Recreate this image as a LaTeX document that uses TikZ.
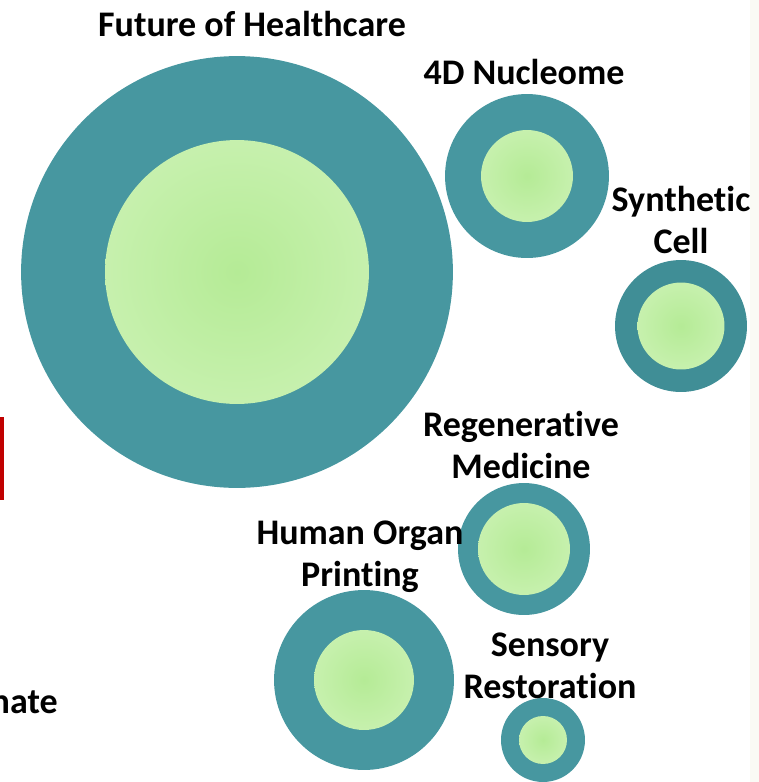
\documentclass[tikz,border=0pt]{standalone}
\usepackage{fontspec}
\setmainfont{Carlito}[Ligatures=CommonOff]
\definecolor{tealring}{RGB}{71,151,160}
\definecolor{tealdark}{RGB}{64,142,150}
\definecolor{glowin}{RGB}{181,235,150}
\definecolor{glowout}{RGB}{216,246,197}
\definecolor{barred}{RGB}{192,0,0}
\definecolor{edgestrip}{RGB}{250,250,245}
\pgfdeclareradialshading{cellglow}{\pgfpoint{0bp}{0bp}}{color(0bp)=(glowin); color(50bp)=(glowout)}
\tikzset{
  topic/.style={font=\bfseries\fontsize{20.5}{23.9}\selectfont,align=center,inner sep=0pt,anchor=base}
}

\begin{document}
\begin{tikzpicture}[x=0.02cm,y=-0.02cm]
  \def\bubble#1#2#3#4#5#6{
    \node[circle,fill=#6,inner sep=0pt,minimum size=#4*0.04cm] (#1) at (#2,#3){};
    \node[circle,shading=cellglow,inner sep=0pt,minimum size=#5*0.04cm] (#1 core) at (#2,#3){};
  }
  \useasboundingbox (0,0) rectangle (759,782);

  %BUBBLES
  \bubble{future}{237}{272}{216}{132}{tealring}
  \bubble{nucleome}{527}{176}{82}{46}{tealring}
  \bubble{synthetic}{681}{326}{66}{43.5}{tealdark}
  \bubble{regenerative}{524}{549}{66}{46}{tealring}
  \bubble{organ}{364}{680}{90}{50}{tealring}
  \bubble{sensory}{543}{740}{42}{24}{tealring}

  %LABELS (base = last line)
  \node[topic] (future label) at (252,36){Future of Healthcare};
  \node[topic] (nucleome label) at (524,84){4D Nucleome};
  \node[topic] (synthetic label) at (681,253){Synthetic\\Cell};
  \node[topic] (regenerative label) at (521,478){Regenerative\\Medicine};
  \node[topic] (organ label) at (360,586){Human Organ\\Printing};
  \node[topic] (sensory label) at (550,698){Sensory\\Restoration};
  \node[topic,anchor=base east] (cut label) at (58,713){nate};

  %EDGES
  \fill[barred] (0,417) rectangle (4,500);
  \fill[edgestrip] (750,0) rectangle (759,782);
\end{tikzpicture}
\end{document}
